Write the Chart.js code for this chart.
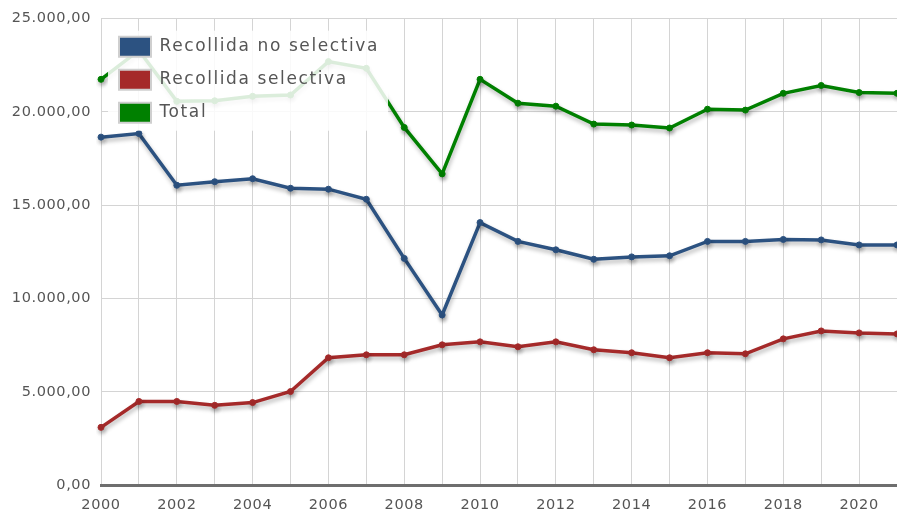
<!DOCTYPE html>
<html>
<head>
<meta charset="utf-8">
<script src="https://cdn.jsdelivr.net/npm/chart.js@4/dist/chart.umd.min.js"></script>
<style>
  html, body { margin: 0; padding: 0; background: #ffffff; }
  #wrap { width: 897px; height: 513px; }
</style>
</head>
<body>
<div id="wrap"><canvas id="c" width="897" height="513"></canvas></div>
<script>
// ---- data ----
const years = ['2000','2001','2002','2003','2004','2005','2006','2007','2008','2009','2010',
               '2011','2012','2013','2014','2015','2016','2017','2018','2019','2020','2021'];
const seriesNames = ['Recollida no selectiva', 'Recollida selectiva', 'Total'];
const noSelectiva = [18650, 18840, 16070, 16260, 16420, 15910, 15860, 15320, 12150, 9115, 14070,
                     13060, 12610, 12100, 12230, 12290, 13060, 13060, 13165, 13140, 12870, 12870];
const selectiva   = [3090, 4480, 4480, 4270, 4420, 5010, 6820, 6980, 6980, 7515, 7675,
                     7410, 7675, 7250, 7090, 6820, 7090, 7035, 7835, 8260, 8155, 8100];
const total       = [21750, 23300, 20570, 20600, 20840, 20910, 22700, 22340, 19170, 16680, 21750,
                     20470, 20310, 19350, 19300, 19140, 20150, 20100, 21000, 21420, 21040, 21000];
const yMin = 0, yMax = 25000, yStep = 5000;

const colors = ['#2c5281', '#a52a2a', '#008000'];

function fmt(v) {
  const s = Math.round(v).toString().replace(/\B(?=(\d{3})+(?!\d))/g, '.');
  return s + ',00';
}

const shadowPlugin = {
  id: 'shadow',
  beforeDatasetDraw(chart) {
    const ctx = chart.ctx;
    ctx.save();
    ctx.shadowColor = 'rgba(0,0,0,0.28)';
    ctx.shadowBlur = 4;
    ctx.shadowOffsetX = 1;
    ctx.shadowOffsetY = 3;
  },
  afterDatasetDraw(chart) { chart.ctx.restore(); }
};

const spacingPlugin = {
  id: 'spacing',
  beforeDraw(chart) { chart.ctx.letterSpacing = '0.6px'; }
};

const legendOnTop = {
  id: 'legendOnTop',
  beforeLayout(chart) {
    const lg = chart.legend;
    if (!lg) return;
    lg._layers = () => [{
      z: 10,
      draw: () => {
        const ctx = chart.ctx;
        const ca = chart.chartArea;
        ctx.save();
        ctx.fillStyle = 'rgba(255,255,255,0.86)';
        ctx.fillRect(ca.left + 7, ca.top + 12, 280, 100);
        const h = lg.height;
        lg.left = ca.left + 5; lg.top = ca.top + 5;
        lg.width = 300;
        lg.right = lg.left + 300; lg.bottom = lg.top + h;
        ctx.letterSpacing = '1.6px';
        lg.draw(ca);
        ctx.restore();
      }
    }];
  }
};

const ctx = document.getElementById('c').getContext('2d');
new Chart(ctx, {
  type: 'line',
  data: {
    labels: years,
    datasets: [noSelectiva, selectiva, total].map((d, i) => ({
      label: seriesNames[i],
      data: d,
      borderColor: colors[i],
      backgroundColor: colors[i],
      borderWidth: 3.5,
      pointRadius: 3,
      pointBackgroundColor: colors[i],
      pointBorderColor: colors[i],
      pointBorderWidth: 1,
      tension: 0,
      fill: false
    }))
  },
  options: {
    responsive: false,
    animation: false,
    layout: { autoPadding: false, padding: { top: 16, right: 0, left: 0, bottom: 0 } },
    plugins: {
      tooltip: { enabled: false },
      legend: {
        display: true,
        position: 'chartArea',
        align: 'start',
        labels: {
          boxWidth: 32,
          boxHeight: 20,
          padding: 13,
          color: '#555555',
          font: { family: 'DejaVu Sans', size: 17 },
          generateLabels(chart) {
            return chart.data.datasets.map((ds, i) => ({
              text: ds.label,
              fillStyle: ds.backgroundColor,
              strokeStyle: '#cfcfcf',
              lineWidth: 2,
              hidden: false,
              datasetIndex: i,
              fontColor: '#555555'
            }));
          }
        }
      }
    },
    scales: {
      x: {
        type: 'category',
        offset: false,
        grid: { color: '#d4d4d4', lineWidth: 1, drawTicks: false },
        border: { display: true, color: '#6e6e6e', width: 3 },
        ticks: {
          autoSkip: false,
          maxRotation: 0,
          padding: 12,
          color: '#555555',
          font: { family: 'DejaVu Sans', size: 14.5 },
          callback: (v, i) => (i % 2 === 0 ? years[i] : '')
        },
        afterFit(scale) { scale.height = 28; scale.paddingRight = 0; scale.paddingLeft = 0; }
      },
      y: {
        min: yMin,
        max: yMax,
        grid: { color: '#d4d4d4', lineWidth: 1, drawTicks: false },
        border: { display: false },
        ticks: {
          stepSize: yStep,
          padding: 10,
          color: '#555555',
          font: { family: 'DejaVu Sans', size: 14.5 },
          callback: (v) => fmt(v)
        },
        afterFit(scale) { scale.width = 101; }
      }
    }
  },
  plugins: [shadowPlugin, spacingPlugin, legendOnTop]
});
</script>
</body>
</html>
